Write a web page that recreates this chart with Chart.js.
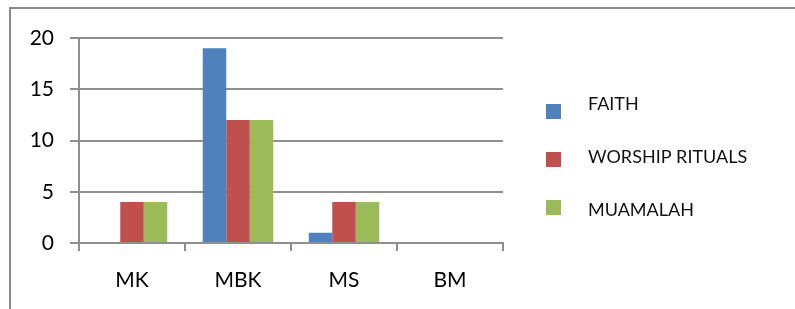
<!DOCTYPE html>
<html>
<head>
<meta charset="utf-8">
<script src="https://cdn.jsdelivr.net/npm/chart.js@4/dist/chart.umd.min.js"></script>
<style>
  html, body { margin: 0; padding: 0; background: #fff; }
  #wrap { position: relative; width: 795px; height: 309px; overflow: hidden; }
  #frame { position: absolute; left: 9px; top: 7px; right: -4px; bottom: -4px;
           border-top: 2px solid #8a8a8a; border-left: 2px solid #8a8a8a; pointer-events: none; }
  canvas { position: absolute; left: 0; top: 0; }
</style>
</head>
<body>
<div id="wrap">
  <canvas id="c" width="795" height="309"></canvas>
  <div id="frame"></div>
</div>
<script>
const categories = ['MK', 'MBK', 'MS', 'BM'];
const faith = [0, 19, 1, 0];
const worshipRituals = [4, 12, 4, 0];
const muamalah = [4, 12, 4, 0];
const seriesNames = ['FAITH', 'WORSHIP RITUALS', 'MUAMALAH'];
const seriesColors = ['#4F81BD', '#C0504D', '#9BBB59'];
const yTicks = [0, 5, 10, 15, 20];

const FONT = 'Lato, "Open Sans", sans-serif';
const GRID = '#8f8f8f';

// legend swatch images (square drawn inside a wider transparent canvas)
const swatchTop = [20, 15, 10];
function makeSwatch(color, top) {
  const cv = document.createElement('canvas');
  cv.width = 41; cv.height = 40;
  const g = cv.getContext('2d');
  g.fillStyle = color;
  g.fillRect(8, top, 15, 15);
  return cv;
}
const swatches = seriesColors.map((c, i) => makeSwatch(c, swatchTop[i]));

const legendWidthPlugin = {
  id: 'legendWidth',
  beforeLayout(chart) {
    const lg = chart.legend;
    if (lg && !lg._wPatched) {
      const f = lg.fit;
      lg.fit = function () { f.call(this); this.width = 292; };
      lg._wPatched = true;
    }
  }
};

new Chart(document.getElementById('c'), {
  type: 'bar',
  data: {
    labels: categories,
    datasets: [
      { label: seriesNames[0], data: faith, backgroundColor: seriesColors[0] },
      { label: seriesNames[1], data: worshipRituals, backgroundColor: seriesColors[1] },
      { label: seriesNames[2], data: muamalah, backgroundColor: seriesColors[2] }
    ]
  },
  options: {
    responsive: false,
    animation: false,
    devicePixelRatio: 1,
    layout: { padding: { top: 38, left: 0, right: 0, bottom: 0 } },
    datasets: { bar: { categoryPercentage: 0.665, barPercentage: 1.0 } },
    scales: {
      x: {
        offset: true,
        grid: { offset: true, drawOnChartArea: false, drawTicks: true, tickLength: 8, color: GRID, lineWidth: 2 },
        border: { display: true, color: GRID, width: 2 },
        ticks: { font: { family: FONT, size: 21 }, color: '#000', padding: 17, maxRotation: 0 },
        afterFit(scale) { scale.height = 66; }
      },
      y: {
        min: 0, max: 20,
        afterBuildTicks(scale) { scale.ticks = yTicks.map(v => ({ value: v })); },
        grid: { drawTicks: true, tickLength: 9, color: GRID, lineWidth: 2 },
        border: { display: true, color: GRID, width: 2 },
        ticks: { font: { family: FONT, size: 21 }, color: '#000', padding: 16 },
        afterFit(scale) { scale.width = 79; }
      }
    },
    plugins: {
      tooltip: { enabled: false },
      legend: {
        position: 'right',
        align: 'start',
        fullSize: true,
        title: { display: true, text: ' ', font: { size: 10 }, padding: { top: 10, bottom: 0 } },
        labels: {
          font: { family: FONT, size: 18 },
          color: '#111',
          padding: 35,
          usePointStyle: true,
          pointStyleWidth: 41,
          generateLabels(chart) {
            const items = Chart.defaults.plugins.legend.labels.generateLabels(chart);
            items.forEach((it, i) => { it.pointStyle = swatches[i]; });
            return items;
          }
        }
      }
    }
  },
  plugins: [legendWidthPlugin]
});
</script>
</body>
</html>
